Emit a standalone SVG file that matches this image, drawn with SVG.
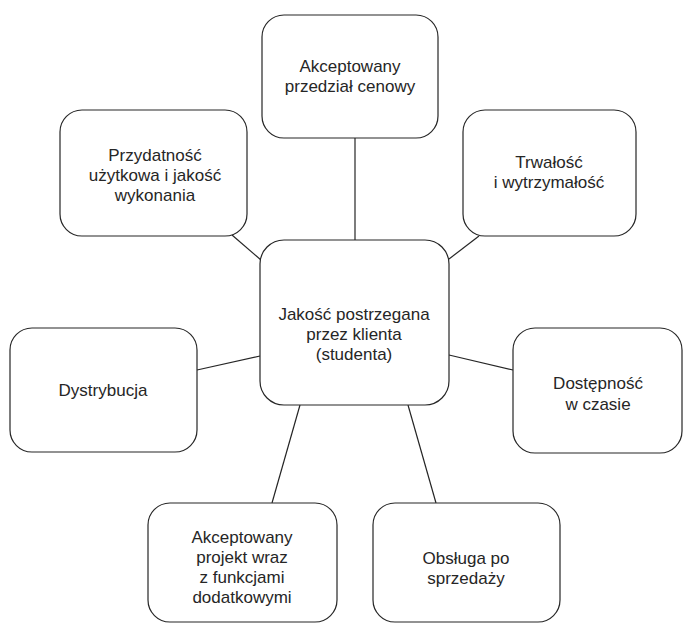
<svg xmlns="http://www.w3.org/2000/svg" width="692" height="624" viewBox="0 0 692 624">
  <style>
    .box { fill: #ffffff; stroke: #262626; stroke-width: 1.2; }
    .link { stroke: #262626; stroke-width: 1.2; fill: none; }
    .lbl { font-family: "Liberation Sans", Arial, sans-serif; font-size: 17px; fill: #262626; text-anchor: middle; }
  </style>
  <rect width="692" height="624" fill="#ffffff"/>

  <!-- spokes from the central node -->
  <g id="connectors">
    <line class="link" x1="355" y1="138" x2="355" y2="240"/>
    <line class="link" x1="232" y1="235" x2="261" y2="260"/>
    <line class="link" x1="479" y1="236" x2="449" y2="259"/>
    <line class="link" x1="197" y1="370" x2="260" y2="356"/>
    <line class="link" x1="449" y1="355" x2="513" y2="370"/>
    <line class="link" x1="300" y1="405" x2="272" y2="503"/>
    <line class="link" x1="408" y1="405" x2="436" y2="503"/>
  </g>

  <g id="center">
    <rect class="box" x="260" y="240" width="189" height="165" rx="24"/>
    <text class="lbl" x="354" y="320">Jakość postrzegana</text>
    <text class="lbl" x="354" y="340">przez klienta</text>
    <text class="lbl" x="354" y="360">(studenta)</text>
  </g>

  <g id="cena">
    <rect class="box" x="262" y="15" width="176" height="123" rx="22"/>
    <text class="lbl" x="350" y="72">Akceptowany</text>
    <text class="lbl" x="350" y="92">przedział cenowy</text>
  </g>

  <g id="przydatnosc">
    <rect class="box" x="60" y="110" width="187" height="126" rx="22"/>
    <text class="lbl" x="155" y="161">Przydatność</text>
    <text class="lbl" x="155" y="181">użytkowa i jakość</text>
    <text class="lbl" x="155" y="201">wykonania</text>
  </g>

  <g id="trwalosc">
    <rect class="box" x="463" y="110" width="173" height="126" rx="22"/>
    <text class="lbl" x="549" y="168">Trwałość</text>
    <text class="lbl" x="549" y="188">i wytrzymałość</text>
  </g>

  <g id="dystrybucja">
    <rect class="box" x="10" y="328" width="187" height="124" rx="22"/>
    <text class="lbl" x="103" y="396">Dystrybucja</text>
  </g>

  <g id="dostepnosc">
    <rect class="box" x="513" y="328" width="169" height="125" rx="22"/>
    <text class="lbl" x="598" y="389">Dostępność</text>
    <text class="lbl" x="598" y="410">w czasie</text>
  </g>

  <g id="projekt">
    <rect class="box" x="148" y="503" width="189" height="119" rx="22"/>
    <text class="lbl" x="242" y="543">Akceptowany</text>
    <text class="lbl" x="242" y="563">projekt wraz</text>
    <text class="lbl" x="242" y="583">z funkcjami</text>
    <text class="lbl" x="242" y="603">dodatkowymi</text>
  </g>

  <g id="obsluga">
    <rect class="box" x="373" y="503" width="187" height="119" rx="22"/>
    <text class="lbl" x="466" y="564">Obsługa po</text>
    <text class="lbl" x="466" y="584">sprzedaży</text>
  </g>
</svg>
